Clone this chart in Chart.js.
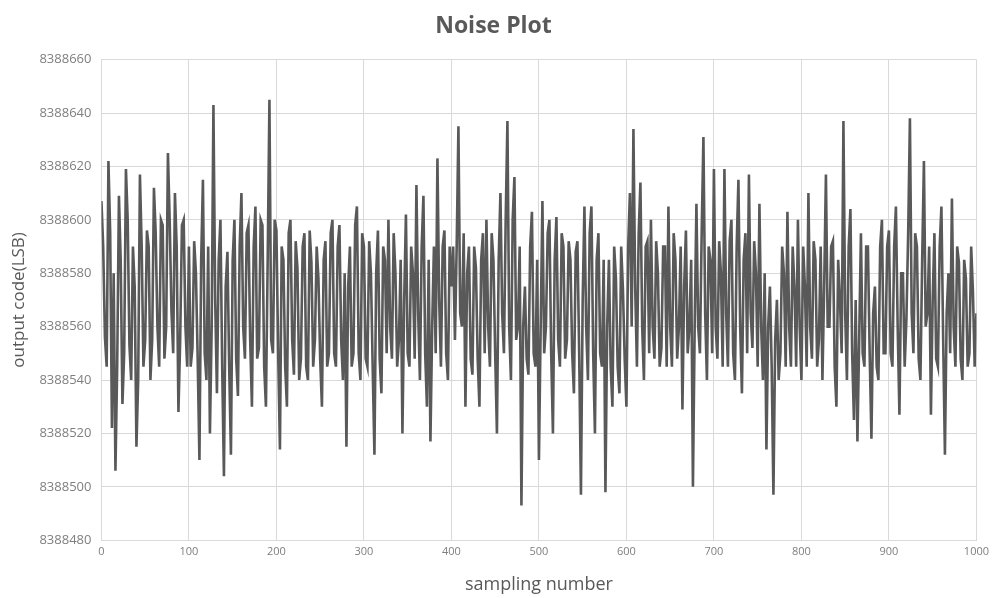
<!DOCTYPE html>
<html>
<head>
<meta charset="utf-8">
<title>Noise Plot</title>
<script src="https://cdn.jsdelivr.net/npm/chart.js@4.4.1/dist/chart.umd.min.js"></script>
<style>
  html, body { margin: 0; padding: 0; background: #fff; }
  #wrap { width: 994px; height: 598px; }
</style>
</head>
<body>
<div id="wrap"><canvas id="noiseChart" width="994" height="598"></canvas></div>
<script>
// one reading every 2 samples
const sampleStep = 2;
const outputCodes = [
  // 0 - 98
  8388607, 8388590, 8388556, 8388545, 8388622, 8388595, 8388522, 8388580, 8388506, 8388545,
  8388609, 8388585, 8388531, 8388550, 8388619, 8388600, 8388553, 8388540, 8388590, 8388575,
  8388515, 8388540, 8388617, 8388590, 8388545, 8388555, 8388596, 8388590, 8388540, 8388555,
  8388612, 8388595, 8388560, 8388545, 8388600, 8388598, 8388548, 8388560, 8388625, 8388600,
  8388566, 8388550, 8388610, 8388590, 8388528, 8388555, 8388598, 8388600, 8388560, 8388545,
  // 100 - 198
  8388590, 8388545, 8388552, 8388592, 8388580, 8388548, 8388510, 8388585, 8388615, 8388550,
  8388540, 8388590, 8388520, 8388560, 8388643, 8388570, 8388535, 8388585, 8388600, 8388545,
  8388504, 8388575, 8388588, 8388545, 8388512, 8388585, 8388600, 8388548, 8388534, 8388590,
  8388610, 8388560, 8388548, 8388595, 8388598, 8388555, 8388530, 8388590, 8388605, 8388548,
  8388552, 8388600, 8388598, 8388545, 8388530, 8388585, 8388645, 8388555, 8388550, 8388600,
  // 200 - 298
  8388596, 8388550, 8388514, 8388590, 8388585, 8388545, 8388530, 8388595, 8388600, 8388555,
  8388542, 8388592, 8388582, 8388540, 8388548, 8388590, 8388595, 8388545, 8388540, 8388596,
  8388584, 8388545, 8388555, 8388590, 8388578, 8388548, 8388530, 8388585, 8388592, 8388545,
  8388550, 8388595, 8388600, 8388550, 8388545, 8388590, 8388598, 8388555, 8388540, 8388580,
  8388515, 8388575, 8388590, 8388545, 8388550, 8388598, 8388605, 8388550, 8388540, 8388595,
  // 300 - 398
  8388590, 8388548, 8388545, 8388592, 8388580, 8388545, 8388512, 8388580, 8388596, 8388548,
  8388535, 8388590, 8388585, 8388550, 8388600, 8388560, 8388548, 8388595, 8388580, 8388545,
  8388555, 8388585, 8388520, 8388570, 8388602, 8388550, 8388545, 8388590, 8388580, 8388548,
  8388613, 8388565, 8388540, 8388590, 8388609, 8388550, 8388530, 8388585, 8388517, 8388560,
  8388590, 8388550, 8388623, 8388570, 8388545, 8388590, 8388596, 8388550, 8388540, 8388590,
  // 400 - 498
  8388575, 8388590, 8388555, 8388590, 8388635, 8388565, 8388560, 8388595, 8388530, 8388580,
  8388590, 8388548, 8388542, 8388590, 8388582, 8388548, 8388530, 8388585, 8388595, 8388550,
  8388600, 8388560, 8388545, 8388595, 8388585, 8388550, 8388520, 8388585, 8388610, 8388565,
  8388550, 8388600, 8388637, 8388560, 8388540, 8388600, 8388616, 8388555, 8388560, 8388590,
  8388493, 8388560, 8388575, 8388548, 8388542, 8388590, 8388603, 8388550, 8388545, 8388585,
  // 500 - 598
  8388510, 8388560, 8388607, 8388550, 8388560, 8388595, 8388600, 8388550, 8388520, 8388585,
  8388601, 8388555, 8388545, 8388595, 8388590, 8388548, 8388555, 8388592, 8388585, 8388550,
  8388535, 8388588, 8388592, 8388550, 8388497, 8388570, 8388605, 8388560, 8388540, 8388595,
  8388605, 8388550, 8388520, 8388585, 8388595, 8388550, 8388545, 8388585, 8388498, 8388560,
  8388585, 8388545, 8388530, 8388590, 8388578, 8388545, 8388535, 8388590, 8388574, 8388548,
  // 600 - 698
  8388530, 8388590, 8388610, 8388560, 8388634, 8388575, 8388545, 8388595, 8388614, 8388560,
  8388540, 8388590, 8388592, 8388550, 8388600, 8388560, 8388548, 8388592, 8388580, 8388545,
  8388552, 8388590, 8388590, 8388545, 8388605, 8388560, 8388545, 8388595, 8388585, 8388548,
  8388560, 8388590, 8388529, 8388575, 8388596, 8388550, 8388560, 8388585, 8388500, 8388560,
  8388606, 8388560, 8388550, 8388595, 8388631, 8388565, 8388540, 8388590, 8388585, 8388550,
  // 700 - 798
  8388619, 8388560, 8388548, 8388592, 8388580, 8388545, 8388619, 8388565, 8388545, 8388592,
  8388600, 8388550, 8388540, 8388590, 8388615, 8388560, 8388535, 8388585, 8388595, 8388550,
  8388617, 8388565, 8388552, 8388592, 8388580, 8388545, 8388606, 8388560, 8388540, 8388580,
  8388514, 8388560, 8388575, 8388545, 8388497, 8388555, 8388570, 8388540, 8388550, 8388590,
  8388580, 8388545, 8388603, 8388560, 8388545, 8388590, 8388575, 8388545, 8388600, 8388560,
  // 800 - 898
  8388540, 8388590, 8388575, 8388545, 8388610, 8388560, 8388548, 8388592, 8388585, 8388545,
  8388555, 8388590, 8388540, 8388575, 8388617, 8388560, 8388560, 8388590, 8388592, 8388545,
  8388530, 8388585, 8388570, 8388550, 8388637, 8388565, 8388540, 8388590, 8388604, 8388550,
  8388525, 8388570, 8388517, 8388555, 8388595, 8388550, 8388545, 8388590, 8388590, 8388550,
  8388518, 8388565, 8388575, 8388545, 8388540, 8388590, 8388600, 8388550, 8388550, 8388590,
  // 900 - 1000
  8388596, 8388550, 8388545, 8388590, 8388605, 8388560, 8388527, 8388580, 8388580, 8388545,
  8388563, 8388595, 8388638, 8388565, 8388550, 8388595, 8388590, 8388548, 8388540, 8388585,
  8388622, 8388560, 8388565, 8388590, 8388527, 8388570, 8388595, 8388548, 8388545, 8388590,
  8388605, 8388555, 8388512, 8388565, 8388580, 8388550, 8388608, 8388560, 8388545, 8388590,
  8388584, 8388548, 8388540, 8388585, 8388578, 8388545, 8388550, 8388590, 8388573, 8388545,
  8388565
];

const xTicks = [0, 100, 200, 300, 400, 500, 600, 700, 800, 900, 1000];
const yTicks = [8388480, 8388500, 8388520, 8388540, 8388560, 8388580, 8388600, 8388620, 8388640, 8388660];

const points = outputCodes.map((v, i) => ({ x: i * sampleStep, y: v }));

const gridColor = "#d9d9d9";
const textColor = "#595959";
const fontFamily = "'Open Sans', 'Liberation Sans', sans-serif";

new Chart(document.getElementById("noiseChart"), {
  type: "line",
  data: {
    datasets: [{
      label: "output code",
      data: points,
      borderColor: "#595959",
      borderWidth: 2.6,
      pointRadius: 0,
      tension: 0,
      fill: false
    }]
  },
  options: {
    responsive: false,
    animation: false,
    layout: { padding: { left: 9, right: 16, top: 9, bottom: 2 } },
    plugins: {
      legend: { display: false },
      tooltip: { enabled: false },
      title: {
        display: true,
        text: "Noise Plot",
        color: textColor,
        font: { family: fontFamily, size: 23, weight: "bold" },
        padding: { top: 4, bottom: 19 }
      }
    },
    scales: {
      x: {
        type: "linear",
        min: 0,
        max: 1000,
        afterBuildTicks: axis => { axis.ticks = xTicks.map(v => ({ value: v })); },
        ticks: {
          color: "#7f7f7f",
          font: { family: fontFamily, size: 11 },
          maxRotation: 0,
          padding: 5,
          callback: v => String(v)
        },
        grid: { color: gridColor, drawTicks: false },
        border: { color: gridColor },
        title: {
          display: true,
          text: "sampling number",
          color: textColor,
          font: { family: fontFamily, size: 18 },
          padding: { top: 11, bottom: 0 }
        }
      },
      y: {
        min: 8388480,
        max: 8388660,
        afterBuildTicks: axis => { axis.ticks = yTicks.map(v => ({ value: v })); },
        ticks: {
          color: "#7f7f7f",
          font: { family: fontFamily, size: 13 },
          padding: 10,
          callback: v => String(v)
        },
        grid: { color: gridColor, drawTicks: false },
        border: { color: gridColor },
        title: {
          display: true,
          text: "output code(LSB)",
          color: textColor,
          font: { family: fontFamily, size: 17 },
          padding: { top: 0, bottom: 0 }
        }
      }
    }
  }
});
</script>
</body>
</html>
